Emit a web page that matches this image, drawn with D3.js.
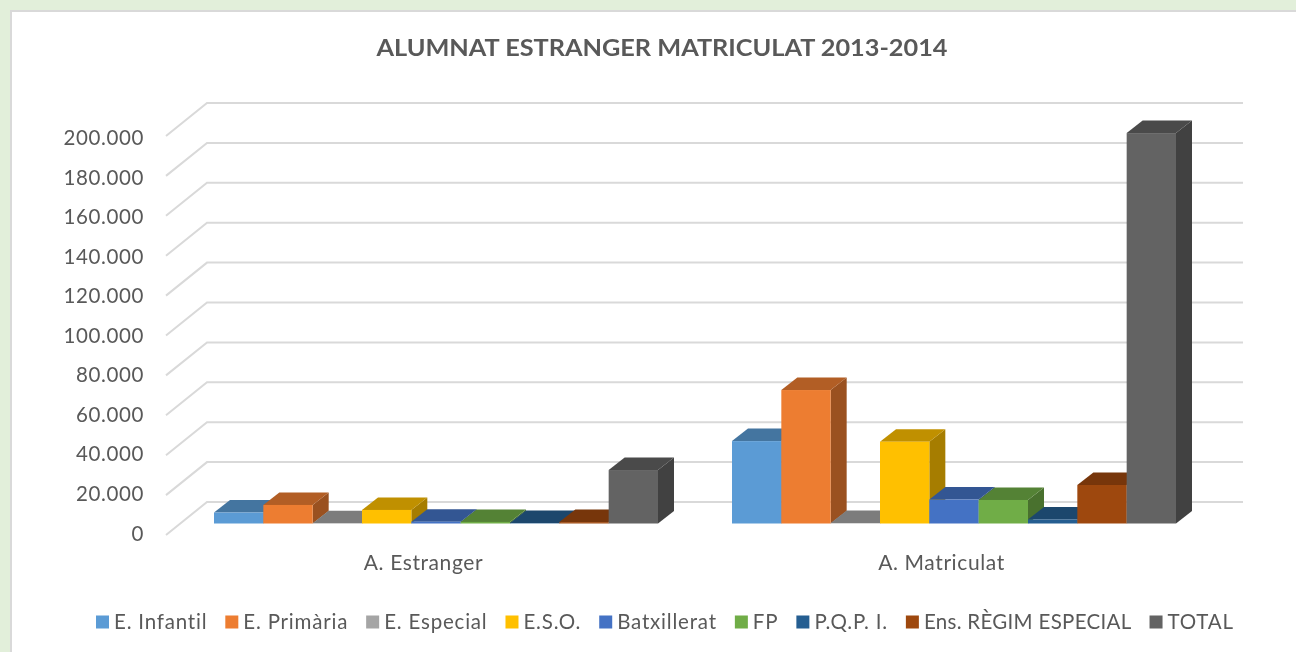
<!DOCTYPE html>
<html><head><meta charset="utf-8">
<script src="https://cdnjs.cloudflare.com/ajax/libs/d3/7.8.5/d3.min.js"></script>
<style>
html,body{margin:0;padding:0;background:#e2efda;overflow:hidden}
svg{display:block;filter:blur(0.45px)}
text{font-family:Lato,"Open Sans",sans-serif;fill:#595959}
</style></head><body>
<svg id="c" width="1296" height="652"></svg>
<script>
const chartTitle = "ALUMNAT ESTRANGER MATRICULAT 2013-2014";
const categories = ["A. Estranger", "A. Matriculat"];
const seriesNames = ["E. Infantil","E. Primària","E. Especial","E.S.O.","Batxillerat","FP","P.Q.P. I.","Ens. RÈGIM ESPECIAL","TOTAL"];
const seriesColors = ["#5b9bd5","#ed7d31","#a5a5a5","#ffc000","#4472c4","#70ad47","#255e91","#9e480e","#636363"];
const estrangerValues = [5500,9300,100,6800,900,800,200,700,26800];
const matriculatValues = [41300,66900,200,41000,12000,11800,2000,19300,195700];
const tickValues = [0,20000,40000,60000,80000,100000,120000,140000,160000,180000,200000];

const svg = d3.select("#c");
const loc = d3.formatLocale({decimal:",",thousands:".",grouping:[3],currency:["",""]});
const fmt = loc.format(",d");

// chart area (runs off the right and bottom of the picture)
svg.append("rect").attr("x",11).attr("y",11).attr("width",1400).attr("height",760)
  .attr("fill","#fff").attr("stroke","#d9d9d9").attr("stroke-width",2);

// scales: front plane of the 3D box
const y = d3.scaleLinear().domain([0,200000]).range([535,136]);
const yLabels = y.copy().range([533.5,138]);
const x0 = d3.scaleBand().domain(categories).range([166,1202]);
const x1 = d3.scaleBand().domain(seriesNames).range([0,x0.bandwidth()]).paddingInner(0).paddingOuter(0.75);
const wallDx = 41, wallDy = -33;    // floor depth
const barInset = {dx:11, dy:-11.5}; // bar front relative to the front plane
const barDepth = {dx:16, dy:-12.5};

// gridlines
const grid = svg.append("g").attr("fill","none").attr("stroke","#d9d9d9").attr("stroke-width",2);
grid.selectAll("path").data(tickValues).join("path")
  .attr("d",v=>`M${x0.range()[0]},${y(v)}L${x0.range()[0]+wallDx},${y(v)+wallDy}H${x0.range()[1]+wallDx}`);

// y axis labels
const yAxis = svg.append("g").attr("transform","translate(152,0)")
  .call(d3.axisLeft(yLabels).tickValues(tickValues).tickFormat(fmt).tickSize(0).tickPadding(8));
yAxis.select(".domain").remove();
yAxis.selectAll("text").attr("font-size",20.5).attr("letter-spacing",0.6).attr("dy","0.32em").style("font-family","Lato");

// x axis labels
const xAxis = svg.append("g").attr("transform","translate(-1.5,563)")
  .call(d3.axisBottom(x0).tickSize(0).tickPadding(0));
xAxis.select(".domain").remove();
xAxis.selectAll("text").attr("font-size",21).attr("letter-spacing",0.6).attr("dy","0.35em").style("font-family","Lato");

// bars
const rows = [estrangerValues, matriculatValues];
categories.forEach((cat,ci)=>{
  const g = svg.append("g").attr("class","bars");
  const data = seriesNames.map((s,i)=>({s,i,v:rows[ci][i]}));
  const cell = g.selectAll("g").data(data).join("g");
  const X = d=>x0(cat)+x1(d.s)+barInset.dx;
  const Y = d=>y(d.v)+barInset.dy;
  const B = y(0)+barInset.dy;
  const W = x1.bandwidth();
  const D = barDepth;
  const col = (d,k)=>d3.color(seriesColors[d.i]).darker(k).formatHex();
  cell.append("path").attr("fill",d=>col(d,1.2))
    .attr("d",d=>`M${X(d)+W},${Y(d)}l${D.dx},${D.dy}V${B+D.dy}l${-D.dx},${-D.dy}Z`);
  cell.append("path").attr("fill",d=>col(d,0.8))
    .attr("d",d=>`M${X(d)},${Y(d)}l${D.dx},${D.dy}h${W}l${-D.dx},${-D.dy}Z`);
  cell.append("rect").attr("fill",d=>seriesColors[d.i])
    .attr("x",X).attr("y",Y).attr("width",W).attr("height",d=>B-Y(d));
});

// title
svg.append("text").attr("transform","translate(662,56) scale(1.1,1)").attr("text-anchor","middle")
  .attr("font-size",23).attr("font-weight",700).attr("letter-spacing",0).text(chartTitle);

// legend
const legend = svg.append("g").attr("transform","translate(96,622)");
let cx = 0;
seriesNames.forEach((name,i)=>{
  const it = legend.append("g").attr("transform",`translate(${cx},0)`);
  it.append("rect").attr("x",0).attr("y",-6.5).attr("width",13).attr("height",13).attr("fill",seriesColors[i]);
  const t = it.append("text").attr("x",18).attr("dy","0.35em").attr("font-size",20.5)
    .attr("letter-spacing",name.length>12?0.3:0.8).text(name);
  cx += 18 + t.node().getComputedTextLength() + 18;
});
</script>
</body></html>
